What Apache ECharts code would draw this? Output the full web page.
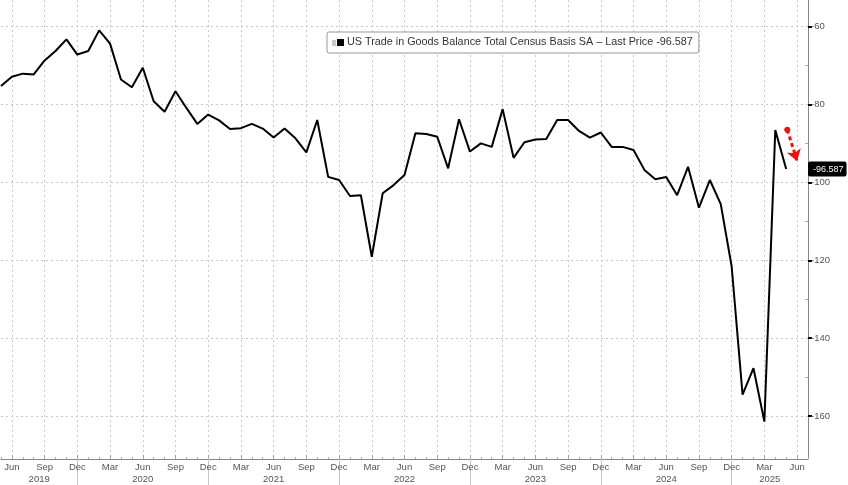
<!DOCTYPE html>
<html><head><meta charset="utf-8">
<script src="https://cdn.jsdelivr.net/npm/echarts@6/dist/echarts.min.js"></script>
<style>html,body{margin:0;padding:0;background:#fff}#c{width:848px;height:485px}</style>
</head><body><div id="c"></div>
<script>
// Monthly data, index 0 = May 2019
const startMonth = 4; // May (0-based)
const monthNames = ['Jan','Feb','Mar','Apr','May','Jun','Jul','Aug','Sep','Oct','Nov','Dec'];
const values = [
  -75.3,-72.9,-72.1,-72.3,-68.7,-66.3,-63.3,-67.2,            // May-Dec 2019
  -66.3,-61.0,-64.4,-73.6,-75.6,-70.6,-79.2,-81.9,-76.6,-80.9,-85.0,-82.6, // 2020
  -84.1,-86.3,-86.1,-85.0,-86.2,-88.5,-86.2,-88.7,-92.3,-84.0,-98.6,-99.4, // 2021
  -103.5,-103.3,-119.1,-102.8,-100.7,-98.1,-87.4,-87.6,-88.3,-96.4,-83.8,-92.1, // 2022
  -90.0,-90.9,-81.2,-93.7,-89.7,-89.0,-88.9,-84.0,-84.0,-86.8,-88.5,-87.2, // 2023
  -90.9,-90.9,-91.7,-96.8,-99.2,-98.6,-103.3,-96.0,-106.5,-99.4,-105.6,-121.6, // 2024
  -154.5,-147.7,-161.4,-86.6,-96.587                            // Jan-May 2025
];
const seriesName = 'US Trade in Goods Balance Total Census Basis SA \u2013 Last Price';
const lastPrice = -96.587;
const yTicks = [-60,-80,-100,-120,-140,-160];
const yMinorTicks = [-70,-90,-110,-130,-150];
const quarterMonths = [2,5,8,11]; // Mar, Jun, Sep, Dec
const years = ['2019','2020','2021','2022','2023','2024','2025'];
const yearLabelPos = [3.5,13,25,37,49,61,70.5];
const yearBreaks = [7,19,31,43,55,67];
const arrowFrom = [72.1,-86.5];
const arrowTo = [73.0,-94.5];
const xMin = 0, xMax = 74;
const yMin = -171, yMax = -53.2;

const quarterIdx = [];
for (let i = xMin; i <= xMax; i++) {
  if (quarterMonths.indexOf((startMonth + i) % 12) >= 0) quarterIdx.push(i);
}
const font = 'Liberation Sans';
const chart = echarts.init(document.getElementById('c'));
chart.setOption({
  animation: false,
  backgroundColor: '#fff',
  grid: {left: 1, right: 40, top: 0, bottom: 26},
  legend: {
    data: [{name: seriesName, icon: 'rect'}],
    left: 327, top: 32,
    itemWidth: 7, itemHeight: 7, itemGap: 4,
    backgroundColor: '#fff', borderColor: '#999', borderWidth: 1, borderRadius: 2,
    padding: [5, 6, 5, 10],
    textStyle: {fontFamily: font, fontSize: 10.8, color: '#333', padding: [0, 0, 0, -2]},
    formatter: n => n + ' ' + lastPrice
  },
  graphic: [{
    type: 'rect', left: 332, top: 40, z: 100,
    shape: {width: 4, height: 6}, style: {fill: '#c8c8c8'}
  }],
  xAxis: [
    {
      type: 'value', min: xMin, max: xMax, position: 'bottom',
      axisLine: {show: true, onZero: false, lineStyle: {color: '#888'}},
      axisTick: {show: true, customValues: quarterIdx, inside: true, length: 4, lineStyle: {color: '#999'}},
      axisLabel: {customValues: quarterIdx, formatter: v => monthNames[(startMonth + v) % 12],
        color: '#555', fontFamily: font, fontSize: 9.5, margin: 3},
      splitLine: {show: true, lineStyle: {color: '#c8c8c8', type: [2, 3], width: 1}}
    },
    {
      type: 'value', min: xMin, max: xMax, interval: 1, position: 'bottom',
      axisLine: {show: false, onZero: false}, axisLabel: {show: false}, splitLine: {show: false},
      axisTick: {show: true, inside: true, length: 2, lineStyle: {color: '#aaa'}}
    },
    {
      type: 'value', min: xMin, max: xMax, position: 'bottom',
      axisLine: {show: false, onZero: false}, splitLine: {show: false},
      axisTick: {show: true, customValues: yearBreaks, inside: false, length: 26, lineStyle: {color: '#c8c8c8'}},
      axisLabel: {customValues: yearLabelPos, formatter: v => years[yearLabelPos.indexOf(v)],
        color: '#555', fontFamily: font, fontSize: 9.5, margin: 15}
    }
  ],
  yAxis: [
    {
      type: 'value', position: 'right', min: yMin, max: yMax,
      axisLine: {show: true, onZero: false, lineStyle: {color: '#888'}},
      axisTick: {show: true, customValues: yTicks, inside: false, length: 4, lineStyle: {color: '#000', width: 2}},
      axisLabel: {customValues: yTicks, color: '#555', fontFamily: font, fontSize: 9.5, margin: 3},
      splitLine: {show: true, lineStyle: {color: '#c8c8c8', type: [2, 3], width: 1}}
    },
    {
      type: 'value', position: 'right', min: yMin, max: yMax,
      axisLine: {show: false, onZero: false}, axisLabel: {show: false}, splitLine: {show: false},
      axisTick: {show: true, customValues: yMinorTicks, inside: true, length: 3, lineStyle: {color: '#aaa'}}
    }
  ],
  series: [{
    name: seriesName, type: 'line', xAxisIndex: 0, yAxisIndex: 0,
    clip: false,
    data: values.map((v, i) => [i, v]),
    symbol: 'none', color: '#000',
    lineStyle: {color: '#000', width: 2},
    markLine: {
      silent: true,
      data: [
        {yAxis: lastPrice, symbol: 'none', lineStyle: {color: 'rgba(0,0,0,0)', width: 0},
          label: {show: true, opacity: 1, position: 'end', distance: 0, formatter: String(lastPrice),
            backgroundColor: '#000', color: '#fff', padding: [3, 3, 3, 5], fontSize: 9, fontFamily: font, borderRadius: 2}},
        [{coord: arrowFrom, symbol: 'circle', symbolSize: 6,
          lineStyle: {color: '#e11', type: [4, 3], width: 3}, label: {show: false}},
         {coord: arrowTo, symbol: 'arrow', symbolSize: 11}]
      ]
    }
  }]
});
</script>
</body></html>
